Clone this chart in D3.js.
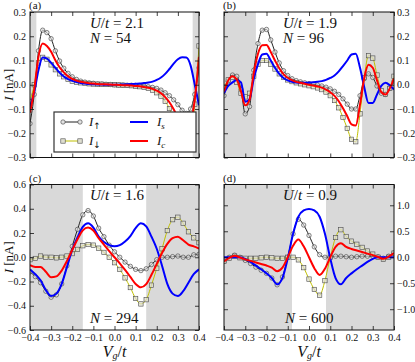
<!DOCTYPE html>
<html><head><meta charset="utf-8">
<script src="https://cdn.jsdelivr.net/npm/d3@7"></script>
<style>body{margin:0;background:#fff}svg{display:block}text{font-family:"Liberation Serif","Times New Roman",serif;fill:#111}</style>
</head><body><svg id="c" width="415" height="362"></svg>
<script>
// ---------- data ----------
const vgAB = [-0.40,-0.38,-0.36,-0.34,-0.32,-0.30,-0.28,-0.26,-0.24,-0.22,-0.20,-0.18,-0.16,-0.14,-0.12,-0.10,-0.08,-0.06,-0.04,-0.02,0.00,0.02,0.04,0.06,0.08,0.10,0.12,0.14,0.16,0.18,0.20,0.22,0.24,0.26,0.28,0.30,0.32,0.34,0.36,0.38,0.40];
const vgCD = [-0.4,-0.375,-0.35,-0.325,-0.3,-0.275,-0.25,-0.225,-0.2,-0.175,-0.15,-0.125,-0.1,-0.075,-0.05,-0.025,0,0.025,0.05,0.075,0.1,0.125,0.15,0.175,0.2,0.225,0.25,0.275,0.3,0.325,0.35,0.375,0.4];

// (a) U/t = 2.1, N = 54
const upA   = [-0.16,-0.04,0.14,0.225,0.215,0.19,0.14,0.098,0.068,0.047,0.033,0.022,0.015,0.011,0.008,0.006,0.004,0.003,0.002,0.001,0,-0.001,-0.001,-0.002,-0.002,-0.003,-0.004,-0.006,-0.008,-0.011,-0.015,-0.022,-0.033,-0.045,-0.062,-0.082,-0.105,-0.118,-0.1,-0.04,0.07];
const downA = [-0.07,0.0,0.09,0.113,0.105,0.082,0.062,0.045,0.033,0.022,0.015,0.011,0.008,0.006,0.004,0.003,0.002,0.002,0.001,0.001,0,-0.001,-0.002,-0.003,-0.004,-0.006,-0.008,-0.011,-0.015,-0.022,-0.033,-0.047,-0.068,-0.098,-0.14,-0.19,-0.215,-0.228,-0.21,-0.08,0.16];
const sA    = [-0.09,-0.03,0.06,0.112,0.108,0.09,0.07,0.05,0.034,0.023,0.016,0.011,0.007,0.005,0.003,0.002,0.001,0.001,0,0,0,0,0.001,0.002,0.003,0.004,0.005,0.007,0.009,0.013,0.02,0.03,0.045,0.065,0.087,0.105,0.113,0.112,0.08,0.0,-0.085];
const cA    = [-0.115,-0.02,0.115,0.17,0.16,0.136,0.101,0.072,0.051,0.035,0.024,0.017,0.012,0.009,0.006,0.005,0.003,0.002,0.002,0.001,0,-0.001,-0.002,-0.002,-0.003,-0.005,-0.006,-0.009,-0.012,-0.017,-0.024,-0.035,-0.051,-0.072,-0.101,-0.136,-0.16,-0.172,-0.155,-0.06,0.115];

// (b) U/t = 1.9, N = 96
const upB   = [-0.045,0.015,0.04,0.035,-0.02,-0.12,-0.09,0.06,0.17,0.225,0.228,0.185,0.135,0.09,0.058,0.038,0.025,0.017,0.012,0.008,0.005,0.002,-0.001,-0.005,-0.01,-0.017,-0.027,-0.04,-0.058,-0.08,-0.1,-0.1,-0.045,0.025,0.045,0.03,-0.005,-0.035,-0.04,-0.015,0.015];
const downB = [-0.01,0.02,0.03,0.01,-0.035,-0.05,-0.035,0.035,0.085,0.1,0.1,0.085,0.065,0.045,0.03,0.02,0.013,0.008,0.004,0.0,-0.004,-0.008,-0.013,-0.02,-0.03,-0.045,-0.065,-0.095,-0.135,-0.18,-0.225,-0.235,-0.12,0.03,0.12,0.11,0.04,-0.025,-0.04,-0.015,0.035];
const sB    = [-0.035,-0.005,0.01,0.02,0.01,-0.07,-0.06,0.025,0.085,0.125,0.128,0.1,0.07,0.045,0.028,0.018,0.012,0.009,0.008,0.008,0.009,0.01,0.012,0.015,0.02,0.028,0.038,0.055,0.077,0.1,0.125,0.128,0.07,-0.01,-0.075,-0.075,-0.04,-0.005,0.008,-0.002,-0.02];
const cB    = [-0.028,0.018,0.035,0.022,-0.028,-0.085,-0.062,0.048,0.128,0.163,0.164,0.135,0.1,0.068,0.044,0.029,0.019,0.012,0.008,0.004,0,-0.003,-0.007,-0.012,-0.02,-0.031,-0.046,-0.068,-0.097,-0.13,-0.163,-0.168,-0.082,0.028,0.082,0.07,0.018,-0.03,-0.04,-0.015,0.025];

// (c) U/t = 1.6, N = 294
const upC   = [-0.12,-0.16,-0.21,-0.28,-0.33,-0.31,-0.22,-0.07,0.09,0.23,0.35,0.385,0.34,0.24,0.17,0.1,0.045,0.0,-0.04,-0.075,-0.1,-0.11,-0.095,-0.06,-0.02,0.0,0.0,0.005,0.01,0.0,0.0,0.02,0.025];
const downC = [-0.02,-0.01,0.01,0.0,0.0,-0.005,0.0,0.01,0.03,0.065,0.095,0.105,0.1,0.075,0.04,0.0,-0.045,-0.1,-0.17,-0.25,-0.34,-0.385,-0.35,-0.23,-0.09,0.07,0.22,0.31,0.33,0.28,0.21,0.16,0.12];
const sC    = [-0.1,-0.14,-0.19,-0.27,-0.32,-0.3,-0.22,-0.08,0.06,0.165,0.25,0.28,0.245,0.17,0.125,0.1,0.09,0.1,0.13,0.175,0.24,0.28,0.255,0.17,0.07,-0.07,-0.22,-0.3,-0.32,-0.28,-0.21,-0.14,-0.1];
const cC    = [-0.065,-0.08,-0.08,-0.12,-0.165,-0.158,-0.11,-0.03,0.06,0.148,0.222,0.245,0.22,0.158,0.105,0.05,0.0,-0.05,-0.105,-0.162,-0.22,-0.248,-0.222,-0.145,-0.055,0.035,0.11,0.158,0.17,0.14,0.105,0.09,0.072];

// (d) U/t = 0.9, N = 600
const upD   = [-0.08,0.0,0.04,0.0,-0.06,-0.12,-0.19,-0.25,-0.31,-0.4,-0.53,-0.38,0.0,0.45,0.73,0.62,0.42,0.2,0.05,0.0,0.0,0.02,0.02,0.01,0.0,0.01,0.02,0.02,0.02,0.01,-0.02,0.02,0.08];
const downD = [-0.08,-0.02,0.02,-0.01,-0.02,-0.02,-0.02,-0.01,0.0,-0.01,-0.02,-0.02,0.0,0.0,-0.05,-0.2,-0.42,-0.62,-0.73,-0.45,0.0,0.38,0.53,0.4,0.31,0.25,0.19,0.12,0.06,0.0,-0.04,0.0,0.08];
const sD    = [0.0,0.0,0.0,0.0,-0.03,-0.09,-0.16,-0.23,-0.31,-0.4,-0.52,-0.4,-0.02,0.45,0.78,0.9,0.93,0.9,0.78,0.45,-0.02,-0.4,-0.52,-0.4,-0.31,-0.23,-0.16,-0.09,-0.03,0.0,0.0,0.0,0.0];
const cD    = [-0.08,-0.01,0.03,-0.005,-0.04,-0.07,-0.1,-0.13,-0.16,-0.2,-0.27,-0.2,0.0,0.22,0.34,0.21,0.0,-0.21,-0.34,-0.22,0.0,0.2,0.27,0.2,0.16,0.13,0.1,0.07,0.04,0.005,-0.03,0.01,0.08];

const xTicks  = [-0.4,-0.3,-0.2,-0.1,0.0,0.1,0.2,0.3,0.4];
const yTicksAB = [-0.3,-0.2,-0.1,0.0,0.1,0.2,0.3];
const yTicksC  = [-0.6,-0.4,-0.2,0.0,0.2,0.4,0.6];
const yTicksD  = [-1.0,-0.5,0.0,0.5,1.0];
const legendSubs = ["↑","↓","s","c"];

// ---------- layout ----------
const panels = [
  {tag:"(a)", x0:30,  x1:199, y0:12,    y1:157.5, ydom:[-0.3,0.3], yt:yTicksAB, side:"left",  xl:false, white:[-0.37,0.37],
   vg:vgAB, up:upA, dn:downA, s:sA, c:cA, U:"2.1", N:"54",  Ux:90,  Uy:28,  Nx:90,  Ny:43},
  {tag:"(b)", x0:224, x1:394, y0:12,    y1:157.5, ydom:[-0.3,0.3], yt:yTicksAB, side:"right", xl:false, white:[-0.25,0.25],
   vg:vgAB, up:upB, dn:downB, s:sB, c:cB, U:"1.9", N:"96",  Ux:283, Uy:28,  Nx:283, Ny:43},
  {tag:"(c)", x0:30,  x1:199, y0:184.5, y1:330,   ydom:[-0.6,0.6], yt:yTicksC,  side:"left",  xl:true,  white:[-0.15,0.15],
   vg:vgCD, up:upC, dn:downC, s:sC, c:cC, U:"1.6", N:"294", Ux:90,  Uy:200, Nx:90,  Ny:323},
  {tag:"(d)", x0:224, x1:394, y0:184.5, y1:330,   ydom:[-1.4,1.4], yt:yTicksD,  side:"right", xl:true,  white:[-0.08,0.08],
   vg:vgCD, up:upD, dn:downD, s:sD, c:cD, U:"0.9", N:"600", Ux:283, Uy:200, Nx:285, Ny:323}
];

const svg = d3.select("#c");
const defs = svg.append("defs");
const fmt = d3.format(".1f");
const circFill = "#e2e2e2", circStroke = "#3a3a3a";
const sqFill = "#deded0", sqStroke = "#4a4a4a";

function styleAxis(sel){
  sel.select(".domain").remove();
  sel.attr("font-family",null).attr("font-size",null);
  sel.selectAll(".tick line").attr("stroke","#111").attr("stroke-width",0.8);
  sel.selectAll(".tick text").attr("font-size",10).attr("fill","#222").style("font-family",'"Liberation Serif",serif');
}

panels.forEach((p,i)=>{
  const x = d3.scaleLinear().domain([-0.4,0.4]).range([p.x0,p.x1]);
  const y = d3.scaleLinear().domain(p.ydom).range([p.y1,p.y0]);
  const cid = "clip"+i;
  defs.append("clipPath").attr("id",cid).append("rect")
    .attr("x",p.x0).attr("y",p.y0).attr("width",p.x1-p.x0).attr("height",p.y1-p.y0);
  const g = svg.append("g");
  g.append("rect").attr("x",p.x0).attr("y",p.y0).attr("width",p.x1-p.x0).attr("height",p.y1-p.y0).attr("fill","#d9d9d9");
  g.append("rect").attr("x",x(p.white[0])).attr("y",p.y0).attr("width",x(p.white[1])-x(p.white[0])).attr("height",p.y1-p.y0).attr("fill","#fff");

  const pg = g.append("g").attr("clip-path",`url(#${cid})`);
  const line = d3.line().x((d,j)=>x(p.vg[j])).y(d=>y(d)).curve(d3.curveMonotoneX);

  // I up
  pg.append("path").attr("d",line(p.up)).attr("fill","none").attr("stroke","#222").attr("stroke-width",1);
  pg.selectAll(".cu").data(p.up).enter().append("circle")
    .attr("cx",(d,j)=>x(p.vg[j])).attr("cy",d=>y(d)).attr("r",2.2)
    .attr("fill",circFill).attr("fill-opacity",0.6).attr("stroke",circStroke).attr("stroke-width",0.6);
  // I down
  pg.append("path").attr("d",line(p.dn)).attr("fill","none").attr("stroke","#bfbf00").attr("stroke-width",1);
  pg.selectAll(".sq").data(p.dn).enter().append("rect")
    .attr("x",(d,j)=>x(p.vg[j])-2.2).attr("y",d=>y(d)-2.2).attr("width",4.4).attr("height",4.4)
    .attr("fill",sqFill).attr("fill-opacity",0.7).attr("stroke",sqStroke).attr("stroke-width",0.6);
  // I_s, I_c
  pg.append("path").attr("d",line(p.s)).attr("fill","none").attr("stroke","#0000ff").attr("stroke-width",2);
  pg.append("path").attr("d",line(p.c)).attr("fill","none").attr("stroke","#ff0000").attr("stroke-width",2);

  // axes (inward ticks)
  const ab = g.append("g").attr("transform",`translate(0,${p.y1})`)
    .call(d3.axisBottom(x).tickValues(xTicks).tickSizeInner(-4).tickSizeOuter(0).tickPadding(4).tickFormat(p.xl?fmt:()=>""));
  styleAxis(ab);
  const at = g.append("g").attr("transform",`translate(0,${p.y0})`)
    .call(d3.axisTop(x).tickValues(xTicks).tickSizeInner(-4).tickSizeOuter(0).tickFormat(()=>""));
  styleAxis(at);
  const al = g.append("g").attr("transform",`translate(${p.x0},0)`)
    .call(d3.axisLeft(y).tickValues(p.yt).tickSizeInner(-4).tickSizeOuter(0).tickPadding(4).tickFormat(p.side==="left"?fmt:()=>""));
  styleAxis(al);
  const ar = g.append("g").attr("transform",`translate(${p.x1},0)`)
    .call(d3.axisRight(y).tickValues(p.yt).tickSizeInner(-4).tickSizeOuter(0).tickPadding(3).tickFormat(p.side==="right"?fmt:()=>""));
  styleAxis(ar);

  g.append("rect").attr("x",p.x0).attr("y",p.y0).attr("width",p.x1-p.x0).attr("height",p.y1-p.y0)
    .attr("fill","none").attr("stroke","#111").attr("stroke-width",1);

  // panel tag
  g.append("text").attr("x",p.x0-1).attr("y",p.y0-3).attr("font-size",11).text(p.tag);

  // U/t and N annotations
  const u = g.append("text").attr("x",p.Ux).attr("y",p.Uy).attr("font-size",15).attr("fill","#333");
  u.append("tspan").attr("font-style","italic").text("U");
  u.append("tspan").text("/");
  u.append("tspan").attr("font-style","italic").text("t");
  u.append("tspan").text(" = "+p.U);
  const n = g.append("text").attr("x",p.Nx).attr("y",p.Ny).attr("font-size",15).attr("fill","#333");
  n.append("tspan").attr("font-style","italic").text("N");
  n.append("tspan").text(" = "+p.N);

  // axis titles
  if(p.side==="left"){
    const t = g.append("text").attr("transform",`translate(13,${(p.y0+p.y1)/2}) rotate(-90)`).attr("text-anchor","middle").attr("font-size",13);
    t.append("tspan").attr("font-style","italic").text("I");
    t.append("tspan").text(" [nA]");
  }
  if(p.xl){
    const t = g.append("text").attr("x",(p.x0+p.x1)/2).attr("y",357).attr("text-anchor","middle").attr("font-size",16);
    t.append("tspan").attr("font-style","italic").text("V");
    t.append("tspan").attr("font-style","italic").attr("font-size",10).attr("dy",1.5).text("g");
    t.append("tspan").attr("dy",-1.5).text("/");
    t.append("tspan").attr("font-style","italic").text("t");
  }

  // legend in (a)
  if(i===0){
    const lg = g.append("g");
    lg.append("rect").attr("x",54).attr("y",112).attr("width",142).attr("height",40)
      .attr("fill","#fff").attr("stroke","#333").attr("stroke-width",1.2);
    const rows = [122,141];
    lg.append("line").attr("x1",63).attr("x2",80).attr("y1",rows[0]).attr("y2",rows[0]).attr("stroke","#222").attr("stroke-width",1);
    [63,80].forEach(cx=>lg.append("circle").attr("cx",cx).attr("cy",rows[0]).attr("r",2.2).attr("fill",circFill).attr("stroke",circStroke).attr("stroke-width",0.6));
    lg.append("line").attr("x1",63).attr("x2",80).attr("y1",rows[1]).attr("y2",rows[1]).attr("stroke","#bfbf00").attr("stroke-width",1);
    [63,80].forEach(cx=>lg.append("rect").attr("x",cx-2.2).attr("y",rows[1]-2.2).attr("width",4.4).attr("height",4.4).attr("fill",sqFill).attr("stroke",sqStroke).attr("stroke-width",0.6));
    lg.append("line").attr("x1",130).attr("x2",148).attr("y1",rows[0]).attr("y2",rows[0]).attr("stroke","#0000ff").attr("stroke-width",2);
    lg.append("line").attr("x1",130).attr("x2",148).attr("y1",rows[1]).attr("y2",rows[1]).attr("stroke","#ff0000").attr("stroke-width",2);
    const lab = (lx,ly,sub,isArrow)=>{
      const t = lg.append("text").attr("x",lx).attr("y",ly+4).attr("font-size",13);
      t.append("tspan").attr("font-style","italic").text("I");
      const s = t.append("tspan").attr("dy",3).text(sub);
      if(isArrow) s.attr("font-size",9).style("font-family",'"DejaVu Sans",sans-serif');
      else s.attr("font-size",9).attr("font-style","italic");
    };
    lab(89,rows[0],legendSubs[0],true);
    lab(89,rows[1],legendSubs[1],true);
    lab(157,rows[0],legendSubs[2],false);
    lab(157,rows[1],legendSubs[3],false);
  }
});
</script></body></html>
